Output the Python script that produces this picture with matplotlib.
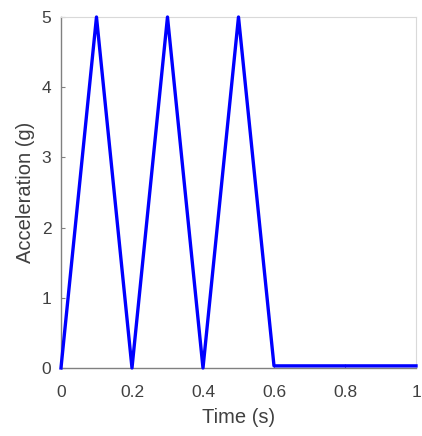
import numpy as np
import matplotlib.pyplot as plt

# Data
time = [0.0, 0.1, 0.2, 0.3, 0.4, 0.5, 0.6, 0.61, 1.0]
accel = [0.0, 5.0, 0.0, 5.0, 0.0, 5.0, 0.03, 0.03, 0.03]
xticks = [0, 0.2, 0.4, 0.6, 0.8, 1]
xticklabels = ['0', '0.2', '0.4', '0.6', '0.8', '1']
yticks = [0, 1, 2, 3, 4, 5]

plt.rcParams['font.family'] = ['Liberation Sans', 'DejaVu Sans']

fig = plt.figure(figsize=(4.22, 4.36), dpi=100)
ax = fig.add_axes([0.1445, 0.156, 0.8413, 0.805])

ax.plot(time, accel, color='#0000ff', linewidth=2.4, clip_on=False, zorder=3)

ax.set_xlim(0, 1)
ax.set_ylim(0, 5)
ax.set_xticks(xticks)
ax.set_xticklabels(xticklabels)
ax.set_yticks(yticks)

for side in ['left', 'bottom']:
    ax.spines[side].set_color('#808080')
    ax.spines[side].set_linewidth(1.0)
for side in ['top', 'right']:
    ax.spines[side].set_color('#d9d9d9')
    ax.spines[side].set_linewidth(0.8)

ax.tick_params(direction='in', length=3, width=0.8, colors='#808080',
               labelcolor='#404040', labelsize=12.5)
ax.tick_params(axis='x', pad=12)
ax.tick_params(axis='y', pad=7)
ax.set_xlabel('Time (s)', fontsize=14.5, color='#404040', labelpad=6)
ax.set_ylabel('Acceleration (g)', fontsize=14.5, color='#404040', labelpad=5)

fig.savefig('out.png', dpi=100)
